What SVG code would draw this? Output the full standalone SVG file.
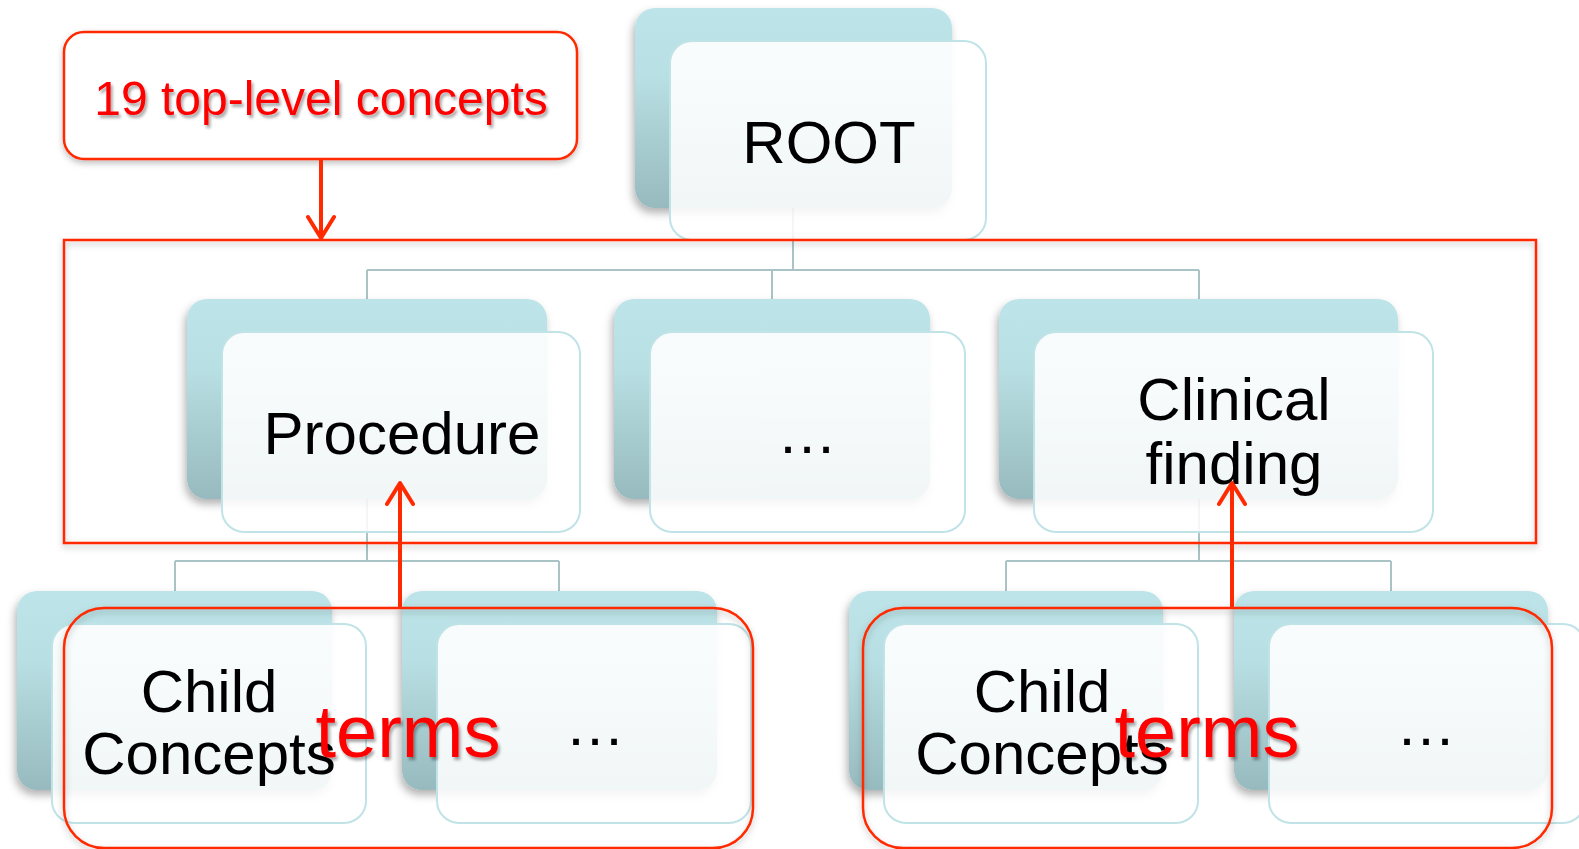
<svg xmlns="http://www.w3.org/2000/svg" width="1579" height="849" viewBox="0 0 1579 849">
<defs>
<linearGradient id="gBack" x1="0" y1="0" x2="0" y2="1">
<stop offset="0" stop-color="#bde4e8"/>
<stop offset="0.35" stop-color="#b8dfe3"/>
<stop offset="1" stop-color="#97babe"/>
</linearGradient>
<linearGradient id="gFront" x1="0" y1="0" x2="0" y2="1">
<stop offset="0" stop-color="#ffffff" stop-opacity="0.9"/>
<stop offset="1" stop-color="#ffffff" stop-opacity="0.86"/>
</linearGradient>
<filter id="sh" x="-10%" y="-10%" width="125%" height="130%">
<feDropShadow dx="-2" dy="5" stdDeviation="4" flood-color="#000" flood-opacity="0.3"/>
</filter>
<filter id="rsh" x="-5%" y="-10%" width="110%" height="125%">
<feDropShadow dx="0" dy="3" stdDeviation="3" flood-color="#000" flood-opacity="0.25"/>
</filter>
<filter id="tsh" x="-5%" y="-10%" width="110%" height="130%">
<feDropShadow dx="2" dy="3" stdDeviation="1.5" flood-color="#000" flood-opacity="0.35"/>
</filter>
<marker id="arr" viewBox="0 0 30 30" refX="26" refY="15" markerWidth="30" markerHeight="30" markerUnits="userSpaceOnUse" orient="auto">
<polyline points="5,2 26,15 5,28" fill="none" stroke="#ff2a00" stroke-width="4" stroke-linecap="round" stroke-linejoin="round"/>
</marker>
</defs>
<style>
.back{fill:url(#gBack);filter:url(#sh)}
.front{fill:url(#gFront);stroke:#bfe3e7;stroke-width:2}
.lbl{font-family:"Liberation Sans",Arial,sans-serif;font-size:60px;fill:#000;text-anchor:middle}
.con{fill:none;stroke:#a9c3c7;stroke-width:2}
.red{fill:none;stroke:#ff2a00;stroke-width:2.5}
.rtxt{font-family:"Liberation Sans",Arial,sans-serif;fill:#ff0000;text-anchor:middle;filter:url(#tsh)}
.rarr{stroke:#ff2a00;stroke-width:4;fill:none;marker-end:url(#arr)}
</style>
<rect width="1579" height="849" fill="#ffffff"/>

<g id="connectors">
<path class="con" d="M793,208 V270 M367,270 H1199 M367,270 V299 M772,270 V299 M1199,270 V299"/>
<path class="con" d="M367,499 V561 M175,561 H559 M175,561 V591 M559,561 V591"/>
<path class="con" d="M1199,499 V561 M1006,561 H1391 M1006,561 V591 M1391,561 V591"/>
</g>

<g id="root">
<rect class="back" x="635" y="8" width="317" height="200" rx="20"/>
<rect class="front" x="670" y="41" width="316" height="199" rx="22"/>
<text class="lbl" x="829" y="163">ROOT</text>
</g>

<g id="procedure">
<rect class="back" x="187" y="299" width="360" height="200" rx="20"/>
<rect class="front" x="222" y="332" width="358" height="200" rx="22"/>
<text class="lbl" x="402" y="454">Procedure</text>
</g>

<g id="mid-ellipsis">
<rect class="back" x="614" y="299" width="316" height="200" rx="20"/>
<rect class="front" x="650" y="332" width="315" height="200" rx="22"/>
<text class="lbl" x="807" y="453">…</text>
</g>

<g id="clinical-finding">
<rect class="back" x="999" y="299" width="399" height="200" rx="20"/>
<rect class="front" x="1034" y="332" width="399" height="200" rx="22"/>
<text class="lbl" x="1234" y="420">Clinical</text>
<text class="lbl" x="1234" y="484">finding</text>
</g>

<g id="child-concepts-left">
<rect class="back" x="17" y="591" width="315" height="199" rx="20"/>
<rect class="front" x="52" y="624" width="314" height="199" rx="22"/>
<text class="lbl" x="209" y="712">Child</text>
<text class="lbl" x="209" y="774">Concepts</text>
</g>

<g id="ellipsis-left">
<rect class="back" x="402" y="591" width="315" height="199" rx="20"/>
<rect class="front" x="437" y="624" width="314" height="199" rx="22"/>
<text class="lbl" x="595" y="745">…</text>
</g>

<g id="child-concepts-right">
<rect class="back" x="849" y="591" width="314" height="199" rx="20"/>
<rect class="front" x="884" y="624" width="314" height="199" rx="22"/>
<text class="lbl" x="1042" y="712">Child</text>
<text class="lbl" x="1042" y="774">Concepts</text>
</g>

<g id="ellipsis-right">
<rect class="back" x="1234" y="591" width="314" height="199" rx="20"/>
<rect class="front" x="1269" y="624" width="316" height="199" rx="22"/>
<text class="lbl" x="1426" y="745">…</text>
</g>

<g id="top-level-frame">
<rect class="red" x="64" y="240" width="1472" height="303" filter="url(#rsh)"/>
</g>

<g id="callout">
<rect x="64" y="32" width="513" height="127" rx="20" fill="#ffffff" stroke="#ff2a00" stroke-width="2.5" filter="url(#rsh)"/>
<text class="rtxt" x="321" y="115" font-size="48">19 top-level concepts</text>
</g>

<g id="terms-left">
<rect class="red" x="64" y="608" width="689" height="240" rx="40" filter="url(#rsh)"/>
<text class="rtxt" x="408" y="757" font-size="74">terms</text>
</g>

<g id="terms-right">
<rect class="red" x="863" y="608" width="689" height="240" rx="40" filter="url(#rsh)"/>
<text class="rtxt" x="1207" y="757" font-size="74">terms</text>
</g>

<g id="red-arrows">
<line class="rarr" x1="321" y1="159" x2="321" y2="238"/>
<line class="rarr" x1="400" y1="608" x2="400" y2="483"/>
<line class="rarr" x1="1232" y1="608" x2="1232" y2="483"/>
</g>
</svg>
